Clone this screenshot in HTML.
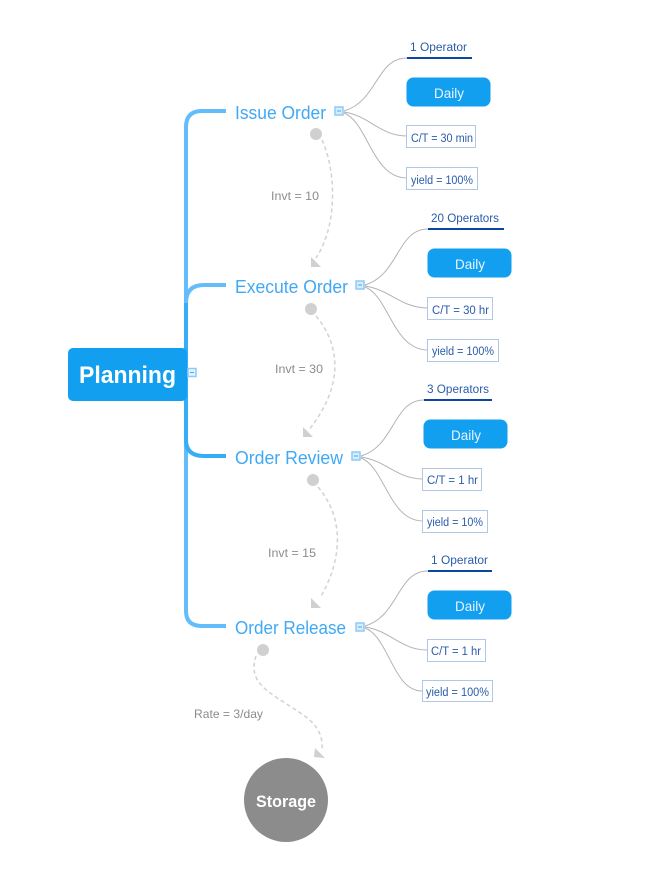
<!DOCTYPE html>
<html>
<head>
<meta charset="utf-8">
<style>
html,body{margin:0;padding:0;background:#fff;width:668px;height:884px;overflow:hidden}
svg{display:block}
text{font-family:"Liberation Sans",sans-serif}
.t{fill:#3fa9f5;font-size:18px}
.s{fill:#2a5caa;font-size:11.500px}
.d{fill:#e8f5fe;font-size:14px}
.g{fill:#8c8c8c;font-size:12px}
.c{fill:none;stroke:#b3b3b3;stroke-width:1}
.b{fill:#fff;stroke:#b0c8e8;stroke-width:1}
.u{stroke:#0a47a1;stroke-width:2}
.db{fill:#129ff0}
.dash{fill:none;stroke:#d2d2d2;stroke-width:1.500;stroke-dasharray:4 3}
.n{fill:#d0d0d0}
.bl{fill:none;stroke:#62bdfa;stroke-width:4}
</style>
</head>
<body>
<svg width="668" height="884" viewBox="0 0 668 884" xmlns="http://www.w3.org/2000/svg">
<rect width="668" height="884" fill="#fff"/>

<!-- main branches -->
<path class="bl" d="M226 111H202Q186 111 186 127V611Q186 626 202 626H226"/>
<path class="bl" d="M226 285H204Q186 285 186 303"/>
<path d="M186 303V440Q186 456 204 456H226" fill="none" stroke="#35aef8" stroke-width="4"/>

<!-- root -->
<rect x="68" y="348" width="119" height="53" rx="5" fill="#129ff0"/>
<text x="79" y="383" fill="#fff" font-size="24" font-weight="bold" textLength="97" lengthAdjust="spacingAndGlyphs">Planning</text>
<rect x="188" y="368.500" width="8" height="8" fill="#e4f2fd" stroke="#8ccbf7" stroke-width="1.500"/>
<path d="M190 372.500h4" stroke="#3fa9f5" stroke-width="1"/>

<!-- Group 1 -->
<text class="t" x="235" y="119" textLength="91" lengthAdjust="spacingAndGlyphs">Issue Order</text>
<path class="c" d="M344 111C378 101 376 58 407 58"/>
<path class="c" d="M344 112C370 116 380 136 407 136"/>
<path class="c" d="M344 113C368 122 372 178 407 178"/>
<rect x="335" y="107" width="8" height="8" fill="#d8edfc" stroke="#8ccbf7" stroke-width="1.500"/>
<path d="M337 111h4" stroke="#3fa9f5"/>
<path class="u" d="M407 58H472"/>
<text class="s" x="410" y="51" textLength="57" lengthAdjust="spacingAndGlyphs">1 Operator</text>
<rect class="db" x="406.500" y="77.500" width="84" height="29" rx="7"/>
<text class="d" x="434" y="98" textLength="30" lengthAdjust="spacingAndGlyphs">Daily</text>
<rect class="b" x="406.500" y="125.500" width="69" height="22"/>
<text class="s" x="411" y="142" textLength="62" lengthAdjust="spacingAndGlyphs">C/T = 30 min</text>
<rect class="b" x="406.500" y="167.500" width="71" height="22"/>
<text class="s" x="411" y="184" textLength="62" lengthAdjust="spacingAndGlyphs">yield = 100%</text>
<circle class="n" cx="316" cy="134" r="6"/>
<path class="dash" d="M322 140C336 170 338 225 316 258"/>
<path class="n" d="M311 257L321 267H311Z"/>
<text class="g" x="271" y="200" textLength="48" lengthAdjust="spacingAndGlyphs">Invt = 10</text>

<!-- Group 2 -->
<text class="t" x="235" y="293" textLength="113" lengthAdjust="spacingAndGlyphs">Execute Order</text>
<path class="c" d="M365 285C399 275 397 229 428 229"/>
<path class="c" d="M365 286C391 290 401 308 428 308"/>
<path class="c" d="M365 287C389 296 393 350 428 350"/>
<rect x="356" y="281" width="8" height="8" fill="#d8edfc" stroke="#8ccbf7" stroke-width="1.500"/>
<path d="M358 285h4" stroke="#3fa9f5"/>
<path class="u" d="M428 229H504"/>
<text class="s" x="431" y="222" textLength="68" lengthAdjust="spacingAndGlyphs">20 Operators</text>
<rect class="db" x="427.500" y="248.500" width="84" height="29" rx="7"/>
<text class="d" x="455" y="269" textLength="30" lengthAdjust="spacingAndGlyphs">Daily</text>
<rect class="b" x="427.500" y="297.500" width="65" height="22"/>
<text class="s" x="432" y="314" textLength="57" lengthAdjust="spacingAndGlyphs">C/T = 30 hr</text>
<rect class="b" x="427.500" y="339.500" width="71" height="22"/>
<text class="s" x="432" y="355" textLength="62" lengthAdjust="spacingAndGlyphs">yield = 100%</text>
<circle class="n" cx="311" cy="309" r="6"/>
<path class="dash" d="M316 316C340 345 345 385 308 431"/>
<path class="n" d="M303 427L313 437H303Z"/>
<text class="g" x="275" y="373" textLength="48" lengthAdjust="spacingAndGlyphs">Invt = 30</text>

<!-- Group 3 -->
<text class="t" x="235" y="464" textLength="108" lengthAdjust="spacingAndGlyphs">Order Review</text>
<path class="c" d="M361 456C395 446 393 400 424 400"/>
<path class="c" d="M361 457C387 461 397 479 423 479"/>
<path class="c" d="M361 458C385 467 389 521 423 521"/>
<rect x="352" y="452" width="8" height="8" fill="#d8edfc" stroke="#8ccbf7" stroke-width="1.500"/>
<path d="M354 456h4" stroke="#3fa9f5"/>
<path class="u" d="M424 400H492"/>
<text class="s" x="427" y="393" textLength="62" lengthAdjust="spacingAndGlyphs">3 Operators</text>
<rect class="db" x="423.500" y="419.500" width="84" height="29" rx="7"/>
<text class="d" x="451" y="440" textLength="30" lengthAdjust="spacingAndGlyphs">Daily</text>
<rect class="b" x="422.500" y="468.500" width="59" height="22"/>
<text class="s" x="427" y="484" textLength="51" lengthAdjust="spacingAndGlyphs">C/T = 1 hr</text>
<rect class="b" x="422.500" y="510.500" width="65" height="22"/>
<text class="s" x="427" y="526" textLength="56" lengthAdjust="spacingAndGlyphs">yield = 10%</text>
<circle class="n" cx="313" cy="480" r="6"/>
<path class="dash" d="M318 487C342 515 345 555 320 598"/>
<path class="n" d="M311 598L321 608H311Z"/>
<text class="g" x="268" y="557" textLength="48" lengthAdjust="spacingAndGlyphs">Invt = 15</text>

<!-- Group 4 -->
<text class="t" x="235" y="634" textLength="111" lengthAdjust="spacingAndGlyphs">Order Release</text>
<path class="c" d="M365 626C399 616 397 571 428 571"/>
<path class="c" d="M365 627C391 631 401 650 427 650"/>
<path class="c" d="M365 628C389 637 393 691 422 691"/>
<rect x="356" y="623" width="8" height="8" fill="#d8edfc" stroke="#8ccbf7" stroke-width="1.500"/>
<path d="M358 627h4" stroke="#3fa9f5"/>
<path class="u" d="M428 571H492"/>
<text class="s" x="431" y="564" textLength="57" lengthAdjust="spacingAndGlyphs">1 Operator</text>
<rect class="db" x="427.500" y="590.500" width="84" height="29" rx="7"/>
<text class="d" x="455" y="611" textLength="30" lengthAdjust="spacingAndGlyphs">Daily</text>
<rect class="b" x="427.500" y="639.500" width="58" height="22"/>
<text class="s" x="431" y="655" textLength="50" lengthAdjust="spacingAndGlyphs">C/T = 1 hr</text>
<rect class="b" x="422.500" y="680.500" width="70" height="21"/>
<text class="s" x="426" y="696" textLength="63" lengthAdjust="spacingAndGlyphs">yield = 100%</text>
<circle class="n" cx="263" cy="650" r="6"/>
<path class="dash" d="M256 656C248 680 265 690 285 703C305 716 324 725 322 750"/>
<path class="n" d="M315 748L325 758L314 757Z"/>
<text class="g" x="194" y="718" textLength="69" lengthAdjust="spacingAndGlyphs">Rate = 3/day</text>

<!-- Storage -->
<circle cx="286" cy="800" r="42" fill="#8c8c8c"/>
<text x="256" y="807" fill="#fff" font-size="17" font-weight="bold" textLength="60" lengthAdjust="spacingAndGlyphs">Storage</text>
</svg>
</body>
</html>
